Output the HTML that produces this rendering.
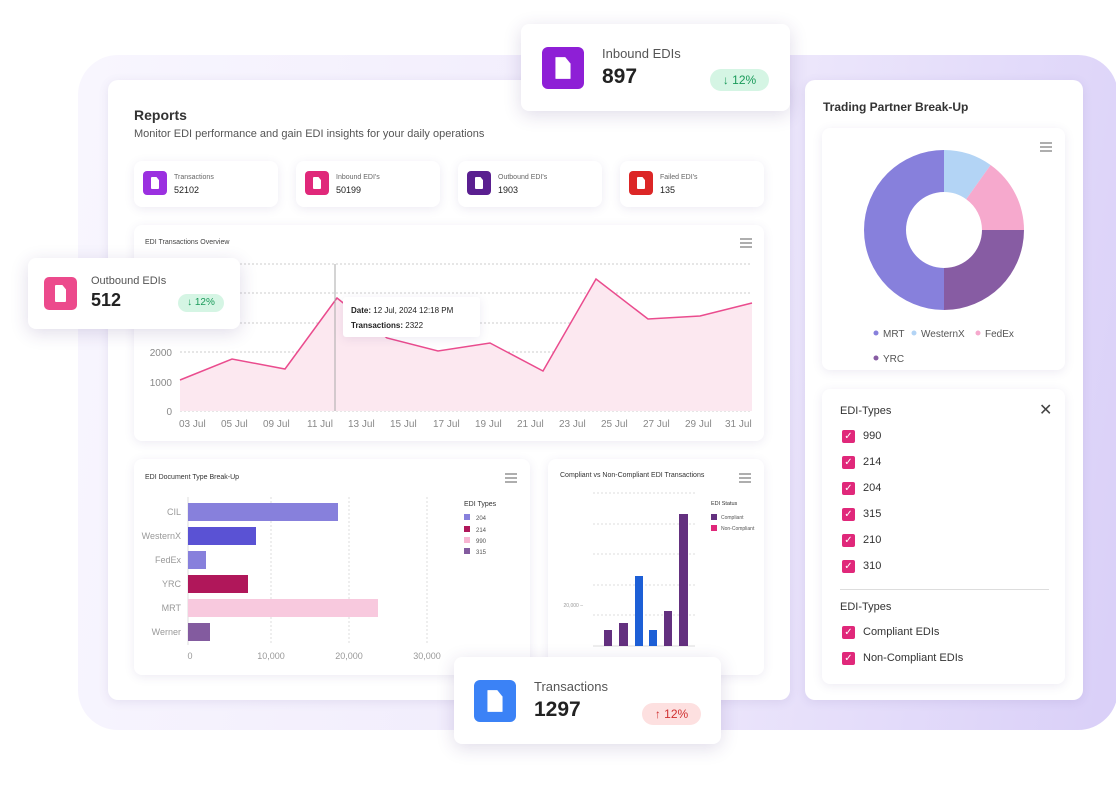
<!DOCTYPE html>
<html><head><meta charset="utf-8"><style>
*{margin:0;padding:0;box-sizing:border-box}
body{width:1116px;height:792px;background:#fff;font-family:"Liberation Sans",sans-serif;position:relative;overflow:hidden;color:#222}
.a{position:absolute}
.card{position:absolute;background:#fff;border-radius:8px;box-shadow:0 2px 10px rgba(80,60,140,.10)}
.ic{position:absolute;border-radius:4px}
.ic::after{content:"";position:absolute;left:32%;top:24%;width:36%;height:52%;background:#fff;border-radius:1px;clip-path:polygon(0 0,65% 0,100% 30%,100% 100%,0 100%)}
.t{position:absolute;white-space:nowrap}
.cb{position:absolute;width:13px;height:13px;background:#e0287a;border-radius:2px;color:#fff;font-size:10px;line-height:13px;text-align:center}
</style></head><body>
<div class="a" style="left:78px;top:55px;width:1040px;height:675px;border-radius:40px;background:linear-gradient(100deg,#f8f6fe 0%,#f0ebfc 55%,#d9cff8 100%)"></div>
<div class="card" style="left:108px;top:80px;width:682px;height:620px;border-radius:10px"></div>
<div class="card" style="left:805px;top:80px;width:278px;height:620px;border-radius:10px"></div>

<div class="t" style="left:134px;top:107px;font-size:14px;font-weight:bold;color:#333">Reports</div>
<div class="t" style="left:134px;top:128px;font-size:11px;color:#555">Monitor EDI performance and gain EDI insights for your daily operations</div>

<div class="card" style="left:134px;top:161px;width:144px;height:46px"><div class="ic" style="left:9px;top:10px;width:24px;height:24px;background:#9b30e0"></div><div class="t" style="left:40px;top:13px;font-size:7px;color:#666">Transactions</div><div class="t" style="left:40px;top:24px;font-size:9px">52102</div></div>
<div class="card" style="left:296px;top:161px;width:144px;height:46px"><div class="ic" style="left:9px;top:10px;width:24px;height:24px;background:#e0287a"></div><div class="t" style="left:40px;top:13px;font-size:7px;color:#666">Inbound EDI's</div><div class="t" style="left:40px;top:24px;font-size:9px">50199</div></div>
<div class="card" style="left:458px;top:161px;width:144px;height:46px"><div class="ic" style="left:9px;top:10px;width:24px;height:24px;background:#5a1f90"></div><div class="t" style="left:40px;top:13px;font-size:7px;color:#666">Outbound EDI's</div><div class="t" style="left:40px;top:24px;font-size:9px">1903</div></div>
<div class="card" style="left:620px;top:161px;width:144px;height:46px"><div class="ic" style="left:9px;top:10px;width:24px;height:24px;background:#dc2626"></div><div class="t" style="left:40px;top:13px;font-size:7px;color:#666">Failed EDI's</div><div class="t" style="left:40px;top:24px;font-size:9px">135</div></div>

<div class="card" style="left:134px;top:225px;width:630px;height:216px"></div>
<div class="t" style="left:145px;top:239px;font-size:7px;color:#444">EDI Transactions Overview</div>
<svg class="a" style="left:0;top:0" width="1116" height="792">
<g stroke="#ccc" stroke-dasharray="2,2" stroke-width="1">
<line x1="180" y1="264" x2="752" y2="264"/><line x1="180" y1="293" x2="752" y2="293"/><line x1="180" y1="323" x2="752" y2="323"/><line x1="180" y1="352" x2="752" y2="352"/><line x1="180" y1="382" x2="752" y2="382"/><line x1="180" y1="411" x2="752" y2="411"/>
</g>
<polygon fill="#fce8f0" points="180,411 180,380 232,359 285,369 337,298 387,338 438,351 490,343 543,371 596,279 648,319 700,316 752,303 752,411"/>
<polyline fill="none" stroke="#ea4c8e" stroke-width="1.5" points="180,380 232,359 285,369 337,298 387,338 438,351 490,343 543,371 596,279 648,319 700,316 752,303"/>
<line x1="335" y1="264" x2="335" y2="411" stroke="#aaa"/>
<g stroke="#777" stroke-width="1.2"><line x1="740" y1="239" x2="752" y2="239"/><line x1="740" y1="243" x2="752" y2="243"/><line x1="740" y1="247" x2="752" y2="247"/></g>
<g font-size="10" fill="#888" font-family="Liberation Sans">
<text x="172" y="356" text-anchor="end">2000</text><text x="172" y="386" text-anchor="end">1000</text><text x="172" y="415" text-anchor="end">0</text>
<text x="179" y="427">03 Jul</text><text x="221" y="427">05 Jul</text><text x="263" y="427">09 Jul</text><text x="307" y="427">11 Jul</text><text x="348" y="427">13 Jul</text><text x="390" y="427">15 Jul</text><text x="433" y="427">17 Jul</text><text x="475" y="427">19 Jul</text><text x="517" y="427">21 Jul</text><text x="559" y="427">23 Jul</text><text x="601" y="427">25 Jul</text><text x="643" y="427">27 Jul</text><text x="685" y="427">29 Jul</text><text x="725" y="427">31 Jul</text>
</g>
</svg>
<div class="card" style="left:343px;top:297px;width:137px;height:40px;border-radius:3px;font-size:8px"><div class="t" style="left:8px;top:9px"><b>Date:</b> 12 Jul, 2024 12:18 PM</div><div class="t" style="left:8px;top:24px"><b>Transactions:</b> 2322</div></div>

<div class="card" style="left:134px;top:459px;width:396px;height:216px"></div>
<div class="t" style="left:145px;top:474px;font-size:7px;color:#333">EDI Document Type Break-Up</div>
<div class="card" style="left:548px;top:459px;width:216px;height:216px"></div>
<div class="t" style="left:560px;top:472px;font-size:7px;color:#333">Compliant vs Non-Compliant EDI Transactions</div>
<svg class="a" style="left:0;top:0" width="1116" height="792">
<g stroke="#ddd" stroke-dasharray="2,2"><line x1="271" y1="497" x2="271" y2="645"/><line x1="349" y1="497" x2="349" y2="645"/><line x1="427" y1="497" x2="427" y2="645"/></g>
<line x1="188" y1="497" x2="188" y2="645" stroke="#ddd"/>
<rect x="188" y="503" width="150" height="18" fill="#8780dc"/>
<rect x="188" y="527" width="68" height="18" fill="#5a52d4"/>
<rect x="188" y="551" width="18" height="18" fill="#8780dc"/>
<rect x="188" y="575" width="60" height="18" fill="#b0175a"/>
<rect x="188" y="599" width="190" height="18" fill="#f8c9de"/>
<rect x="188" y="623" width="22" height="18" fill="#835b9f"/>
<g font-size="9" fill="#999" font-family="Liberation Sans" text-anchor="end">
<text x="181" y="515">CIL</text><text x="181" y="539">WesternX</text><text x="181" y="563">FedEx</text><text x="181" y="587">YRC</text><text x="181" y="611">MRT</text><text x="181" y="635">Werner</text></g>
<g font-size="9" fill="#999" font-family="Liberation Sans" text-anchor="middle"><text x="190" y="659">0</text><text x="271" y="659">10,000</text><text x="349" y="659">20,000</text><text x="427" y="659">30,000</text></g>
<text x="464" y="506" font-size="7" fill="#333" font-family="Liberation Sans">EDI Types</text>
<g font-size="6" fill="#555" font-family="Liberation Sans"><rect x="464" y="514" width="6" height="6" fill="#8780dc"/><text x="476" y="520">204</text><rect x="464" y="526" width="6" height="6" fill="#b0175a"/><text x="476" y="532">214</text><rect x="464" y="537" width="6" height="6" fill="#f8b5d2"/><text x="476" y="543">990</text><rect x="464" y="548" width="6" height="6" fill="#835b9f"/><text x="476" y="554">315</text></g>
<g stroke="#777" stroke-width="1.2"><line x1="505" y1="474" x2="517" y2="474"/><line x1="505" y1="478" x2="517" y2="478"/><line x1="505" y1="482" x2="517" y2="482"/><line x1="739" y1="474" x2="751" y2="474"/><line x1="739" y1="478" x2="751" y2="478"/><line x1="739" y1="482" x2="751" y2="482"/></g>
<g stroke="#ddd" stroke-dasharray="2,2"><line x1="593" y1="493" x2="695" y2="493"/><line x1="593" y1="524" x2="695" y2="524"/><line x1="593" y1="554" x2="695" y2="554"/><line x1="593" y1="585" x2="695" y2="585"/><line x1="593" y1="615" x2="695" y2="615"/></g>
<line x1="593" y1="646" x2="695" y2="646" stroke="#ddd"/>
<text x="583" y="607" font-size="5" fill="#999" text-anchor="end" font-family="Liberation Sans">20,000 –</text>
<rect x="604" y="630" width="8" height="16" fill="#63307f"/>
<rect x="619" y="623" width="9" height="23" fill="#63307f"/>
<rect x="635" y="576" width="8" height="70" fill="#1d5fd6"/>
<rect x="649" y="630" width="8" height="16" fill="#1d5fd6"/>
<rect x="664" y="611" width="8" height="35" fill="#63307f"/>
<rect x="679" y="514" width="9" height="132" fill="#63307f"/>
<text x="711" y="505" font-size="5.5" fill="#333" font-family="Liberation Sans">EDI Status</text>
<rect x="711" y="514" width="6" height="6" fill="#63307f"/><text x="721" y="519" font-size="5" fill="#555" font-family="Liberation Sans">Compliant</text>
<rect x="711" y="525" width="6" height="6" fill="#e0287a"/><text x="721" y="530" font-size="5" fill="#555" font-family="Liberation Sans">Non-Compliant</text>
</svg>

<div class="t" style="left:823px;top:100px;font-size:12px;font-weight:bold;color:#333">Trading Partner Break-Up</div>
<div class="card" style="left:822px;top:128px;width:243px;height:242px"></div>
<svg class="a" style="left:0;top:0" width="1116" height="792">
<g stroke="#777" stroke-width="1.2"><line x1="1040" y1="143" x2="1052" y2="143"/><line x1="1040" y1="147" x2="1052" y2="147"/><line x1="1040" y1="151" x2="1052" y2="151"/></g>
<path d="M944 150 A80 80 0 0 1 990.6 165 L966.2 199.2 A38 38 0 0 0 944 192Z" fill="#b3d4f5"/>
<path d="M990.6 165 A80 80 0 0 1 1024 230 L982 230 A38 38 0 0 0 966.2 199.2Z" fill="#f6a9cd"/>
<path d="M1024 230 A80 80 0 0 1 944 310 L944 268 A38 38 0 0 0 982 230Z" fill="#875ca3"/>
<path d="M944 310 A80 80 0 0 1 944 150 L944 192 A38 38 0 0 0 944 268Z" fill="#8780dc"/>
<g font-size="10" fill="#555" font-family="Liberation Sans">
<circle cx="876" cy="333" r="2.5" fill="#8780dc"/><text x="883" y="337">MRT</text>
<circle cx="914" cy="333" r="2.5" fill="#b3d4f5"/><text x="921" y="337">WesternX</text>
<circle cx="978" cy="333" r="2.5" fill="#f6a9cd"/><text x="985" y="337">FedEx</text>
<circle cx="876" cy="358" r="2.5" fill="#875ca3"/><text x="883" y="362">YRC</text></g>
</svg>
<div class="card" style="left:822px;top:389px;width:243px;height:295px"></div>
<div class="t" style="left:840px;top:405px;font-size:11px;color:#333">EDI-Types</div>
<div class="t" style="left:1039px;top:400px;font-size:16px;color:#444">✕</div>
<div class="cb" style="left:842px;top:430px">✓</div><div class="t" style="left:863px;top:430px;font-size:11px;color:#333">990</div>
<div class="cb" style="left:842px;top:456px">✓</div><div class="t" style="left:863px;top:456px;font-size:11px;color:#333">214</div>
<div class="cb" style="left:842px;top:482px">✓</div><div class="t" style="left:863px;top:482px;font-size:11px;color:#333">204</div>
<div class="cb" style="left:842px;top:508px">✓</div><div class="t" style="left:863px;top:508px;font-size:11px;color:#333">315</div>
<div class="cb" style="left:842px;top:534px">✓</div><div class="t" style="left:863px;top:534px;font-size:11px;color:#333">210</div>
<div class="cb" style="left:842px;top:560px">✓</div><div class="t" style="left:863px;top:560px;font-size:11px;color:#333">310</div>
<div class="a" style="left:840px;top:589px;width:209px;height:1px;background:#ddd"></div>
<div class="t" style="left:840px;top:601px;font-size:11px;color:#333">EDI-Types</div>
<div class="cb" style="left:842px;top:626px">✓</div><div class="t" style="left:863px;top:626px;font-size:11px;color:#333">Compliant EDIs</div>
<div class="cb" style="left:842px;top:652px">✓</div><div class="t" style="left:863px;top:652px;font-size:11px;color:#333">Non-Compliant EDIs</div>

<div class="card" style="left:521px;top:24px;width:269px;height:87px;border-radius:8px;box-shadow:0 4px 18px rgba(60,40,120,.16)">
<div class="ic" style="left:21px;top:23px;width:42px;height:42px;background:#8e1fd6;border-radius:6px"></div>
<div class="t" style="left:81px;top:22px;font-size:13px;color:#555">Inbound EDIs</div>
<div class="t" style="left:81px;top:41px;font-size:21px;font-weight:bold;color:#222">897</div>
<div class="t" style="left:189px;top:45px;width:59px;height:22px;background:#d5f5e4;border-radius:11px;color:#1a9a5a;font-size:12px;text-align:center;line-height:22px">↓ 12%</div></div>
<div class="card" style="left:28px;top:258px;width:212px;height:71px;box-shadow:0 4px 18px rgba(60,40,120,.16)">
<div class="ic" style="left:16px;top:19px;width:33px;height:33px;background:#ec4a8c;border-radius:5px"></div>
<div class="t" style="left:63px;top:17px;font-size:11px;color:#555">Outbound EDIs</div>
<div class="t" style="left:63px;top:32px;font-size:18px;font-weight:bold;color:#222">512</div>
<div class="t" style="left:150px;top:36px;width:46px;height:18px;background:#d5f5e4;border-radius:9px;color:#1a9a5a;font-size:10px;text-align:center;line-height:18px">↓ 12%</div></div>
<div class="card" style="left:454px;top:657px;width:267px;height:87px;box-shadow:0 4px 18px rgba(60,40,120,.16)">
<div class="ic" style="left:20px;top:23px;width:42px;height:42px;background:#3b82f6;border-radius:6px"></div>
<div class="t" style="left:80px;top:22px;font-size:13px;color:#555">Transactions</div>
<div class="t" style="left:80px;top:41px;font-size:21px;font-weight:bold;color:#222">1297</div>
<div class="t" style="left:188px;top:46px;width:59px;height:22px;background:#fde0e0;border-radius:11px;color:#d03030;font-size:12px;text-align:center;line-height:22px">↑ 12%</div></div>
</body></html>
